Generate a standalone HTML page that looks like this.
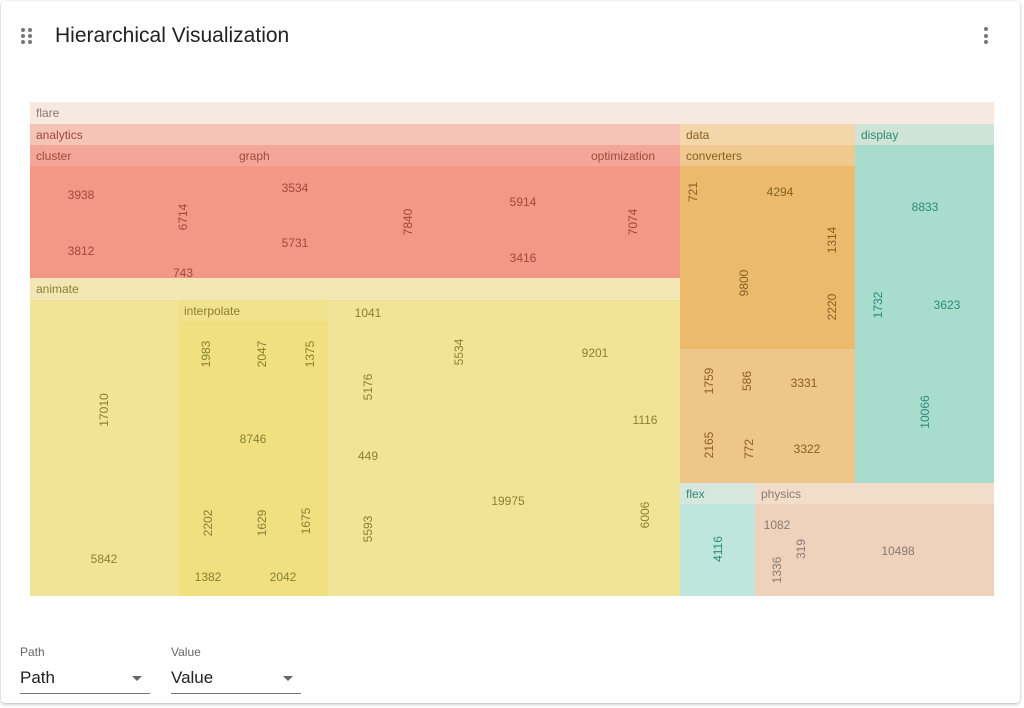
<!DOCTYPE html>
<html><head><meta charset="utf-8">
<style>
html,body{margin:0;padding:0;background:#fff;width:1024px;height:708px;overflow:hidden;font-family:"Liberation Sans",sans-serif}
.card{position:absolute;left:1px;top:1px;width:1019px;height:702px;border-radius:4px;box-shadow:0 1px 3px rgba(0,0,0,.3);background:#fff}
.r{position:absolute;box-sizing:border-box}
.h{font-size:12px;padding-left:6px;line-height:23px;white-space:nowrap}
.lbl{position:absolute;font-size:12px;transform:translate(-50%,-50%);white-space:nowrap}
.rot{transform:translate(-50%,-50%) rotate(-90deg)}
.dot{position:absolute;width:4px;height:4px;border-radius:50%;background:#777}
.sel{position:absolute;top:640px;width:130px;height:54px}
.sel .cap{font-size:12px;color:#666;position:absolute;top:5px;left:0}
.sel .val{font-size:17px;color:#222;position:absolute;top:28px;left:0}
.sel .line{position:absolute;left:0;right:0;top:53px;height:1px;background:#777}
.sel .arr{position:absolute;right:8px;top:36px;width:0;height:0;border-left:5px solid transparent;border-right:5px solid transparent;border-top:5px solid #666}
</style></head><body>
<div class="card"></div>
<div style="position:absolute;left:20px;top:28px;width:14px;height:16px">
<div class="dot" style="left:1px;top:0"></div><div class="dot" style="left:8px;top:0"></div>
<div class="dot" style="left:1px;top:6px"></div><div class="dot" style="left:8px;top:6px"></div>
<div class="dot" style="left:1px;top:12px"></div><div class="dot" style="left:8px;top:12px"></div></div>
<div style="position:absolute;left:55px;top:24px;font-size:21px;color:#222">Hierarchical Visualization</div>
<div style="position:absolute;left:983px;top:26px;width:6px;height:20px">
<div class="dot" style="left:1px;top:1px"></div><div class="dot" style="left:1px;top:8px"></div><div class="dot" style="left:1px;top:14px"></div></div>

<div id="tm" style="position:absolute;left:0;top:0;width:1024px;height:708px">
<div class="r h" style="left:30px;top:102px;width:964px;height:22px;background:#f6e9df;color:#8a7a70">flare</div>
<div class="r h" style="left:30px;top:124px;width:650px;height:21px;background:#f5c4b6;color:#a0483c">analytics</div>
<div class="r" style="left:30px;top:145px;width:650px;height:21px;background:#f4a799"></div>
<div class="r h" style="left:30px;top:145px;height:21px;color:#a0483c">cluster</div>
<div class="r h" style="left:233px;top:145px;height:21px;color:#a0483c">graph</div>
<div class="r h" style="left:585px;top:145px;height:21px;color:#a0483c">optimization</div>
<div class="r" style="left:30px;top:166px;width:650px;height:112px;background:#f39787"></div>
<div class="r h" style="left:30px;top:278px;width:650px;height:22px;background:#f3e6b5;color:#8a8030">animate</div>
<div class="r" style="left:30px;top:300px;width:650px;height:296px;background:#f1e496"></div>
<div class="r h" style="left:178px;top:300px;width:150px;height:21px;background:#f1e38e;color:#8a8030">interpolate</div>
<div class="r" style="left:178px;top:321px;width:150px;height:275px;background:#f0e080"></div>
<div class="r h" style="left:680px;top:124px;width:175px;height:21px;background:#f3d6aa;color:#8a6020">data</div>
<div class="r h" style="left:680px;top:145px;width:175px;height:21px;background:#efc98e;color:#8a6020">converters</div>
<div class="r" style="left:680px;top:166px;width:175px;height:183px;background:#ecba6c"></div>
<div class="r" style="left:680px;top:349px;width:175px;height:134px;background:#efc68a"></div>
<div class="r h" style="left:855px;top:124px;width:139px;height:21px;background:#cfe3d6;color:#2e8a78">display</div>
<div class="r" style="left:855px;top:145px;width:139px;height:338px;background:#a8dccd"></div>
<div class="r h" style="left:680px;top:483px;width:75px;height:21px;background:#d6e8de;color:#2e8a78">flex</div>
<div class="r" style="left:680px;top:504px;width:75px;height:92px;background:#bfe6dc"></div>
<div class="r h" style="left:755px;top:483px;width:239px;height:21px;background:#f2ddca;color:#8a7a70">physics</div>
<div class="r" style="left:755px;top:504px;width:239px;height:92px;background:#eed2bb"></div>
</div>

<div class="sel" style="left:20px"><div class="cap">Path</div><div class="val">Path</div><div class="arr"></div><div class="line"></div></div>
<div class="sel" style="left:171px"><div class="cap">Value</div><div class="val">Value</div><div class="arr"></div><div class="line"></div></div>

<script>
const leafValues=[3938,3812,6714,743,3534,5731,7840,5914,3416,7074,
17010,5842,1983,2047,1375,8746,2202,1629,1675,1382,2042,1041,5176,449,5593,5534,9201,19975,1116,6006,
721,4294,1314,9800,2220,1759,586,3331,2165,772,3322,
8833,1732,3623,10066,4116,1082,319,1336,10498];
const leafGroup=['a','a','a','a','a','a','a','a','a','a',
'n','n','n','n','n','n','n','n','n','n','n','n','n','n','n','n','n','n','n','n',
'd','d','d','d','d','d','d','d','d','d','d',
's','s','s','s','f','p','p','p','p'];
const labelX=[81,81,183,183,295,295,408,523,523,633,
104,104,206,262,310,253,208,262,306,208,283,368,368,368,368,459,595,508,645,645,
693,780,832,744,832,709,747,804,709,749,807,
925,878,947,925,718,777,801,777,898];
const labelY=[195,251,217,273,188,243,222,202,258,222,
410,559,354,354,354,439,523,523,521,577,577,313,387,456,529,352,353,501,420,515,
192,192,240,283,307,381,381,383,445,449,449,
207,305,305,412,549,525,549,570,551];
const labelRot=[0,0,1,0,0,0,1,0,0,1, 1,0,1,1,1,0,1,1,1,0,0,0,1,0,1,1,0,0,0,1, 1,0,1,1,1,1,1,0,1,1,0, 0,1,0,1,1,0,1,1,0];
const colors={a:'#a0483c',n:'#8a8030',d:'#8a6020',s:'#2e8a78',f:'#2e8a78',p:'#8a7a70'};
const tm=document.getElementById('tm');
leafValues.forEach((v,i)=>{
  const el=document.createElement('div');
  el.className='lbl'+(labelRot[i]?' rot':'');
  el.style.left=labelX[i]+'px';el.style.top=labelY[i]+'px';
  el.style.color=colors[leafGroup[i]];
  el.textContent=v;
  
  
  tm.appendChild(el);
});
</script>
</body></html>
